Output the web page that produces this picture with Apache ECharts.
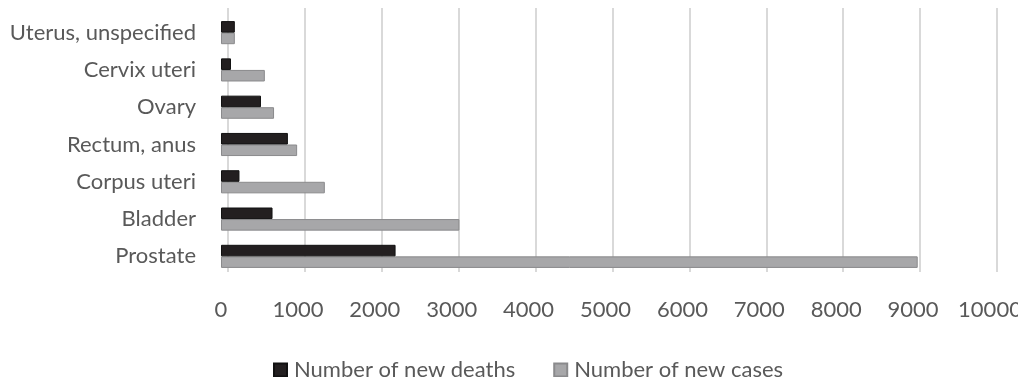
<!DOCTYPE html>
<html><head><meta charset="utf-8">
<script src="https://cdn.jsdelivr.net/npm/echarts@6/dist/echarts.min.js"></script>
<style>html,body{margin:0;padding:0;background:#fff}#c{width:1018px;height:377px}</style>
</head><body><div id="c"></div>
<script>
var categories = ["Prostate", "Bladder", "Corpus uteri", "Rectum, anus", "Ovary", "Cervix uteri", "Uterus, unspecified"];
var newDeaths = [2270, 670, 240, 870, 520, 130, 180];
var newCases = [9060, 3100, 1350, 990, 690, 570, 180];
var seriesNames = ["Number of new deaths", "Number of new cases"];
var xMax = 10000, xStep = 1000;

var font = "Lato, 'Open Sans', sans-serif";
var fs = 22;
var chart = echarts.init(document.getElementById('c'));
chart.setOption({
  animation: false,
  textStyle: {fontFamily: font},
  grid: [
    {left: 221, right: 28, top: 14, bottom: 102, containLabel: false, outerBoundsMode: 'none'},
    {left: 228, right: 21, top: 8, bottom: 105, containLabel: false, outerBoundsMode: 'none'}
  ],
  legend: {
    data: seriesNames,
    top: 354, left: 268,
    itemWidth: 13, itemHeight: 13, itemGap: 38,
    icon: 'rect',
    textStyle: {fontFamily: font, fontSize: fs, color: '#595959', padding: [0, 0, 0, 2]}
  },
  xAxis: [
    {gridIndex: 0, type: 'value', min: 0, max: xMax, interval: xStep,
     axisLine: {show: false}, axisTick: {show: false}, splitLine: {show: false},
     axisLabel: {fontFamily: font, fontSize: fs, color: '#595959', margin: 24,
                 formatter: function (v) { return String(v); }}},
    {gridIndex: 1, type: 'value', min: 0, max: xMax, interval: xStep,
     axisLine: {show: false}, axisTick: {show: false}, axisLabel: {show: false},
     splitLine: {show: true, lineStyle: {color: '#d9d9d9', width: 2}}}
  ],
  yAxis: [
    {gridIndex: 0, type: 'category', data: categories,
     axisLine: {show: false}, axisTick: {show: false},
     axisLabel: {fontFamily: font, fontSize: fs, color: '#595959', margin: 25}},
    {gridIndex: 1, type: 'category', data: categories, show: false}
  ],
  series: [
    {name: seriesNames[0], type: 'bar', xAxisIndex: 0, yAxisIndex: 0, data: newDeaths,
     barGap: '0%', barCategoryGap: '38%',
     itemStyle: {color: '#231f20', borderColor: '#111', borderWidth: 1}, z: 4},
    {name: seriesNames[1], type: 'bar', xAxisIndex: 0, yAxisIndex: 0, data: newCases,
     itemStyle: {color: '#a7a7a9', borderColor: '#8a8a8c', borderWidth: 1}, z: 3}
  ]
});
</script></body></html>
